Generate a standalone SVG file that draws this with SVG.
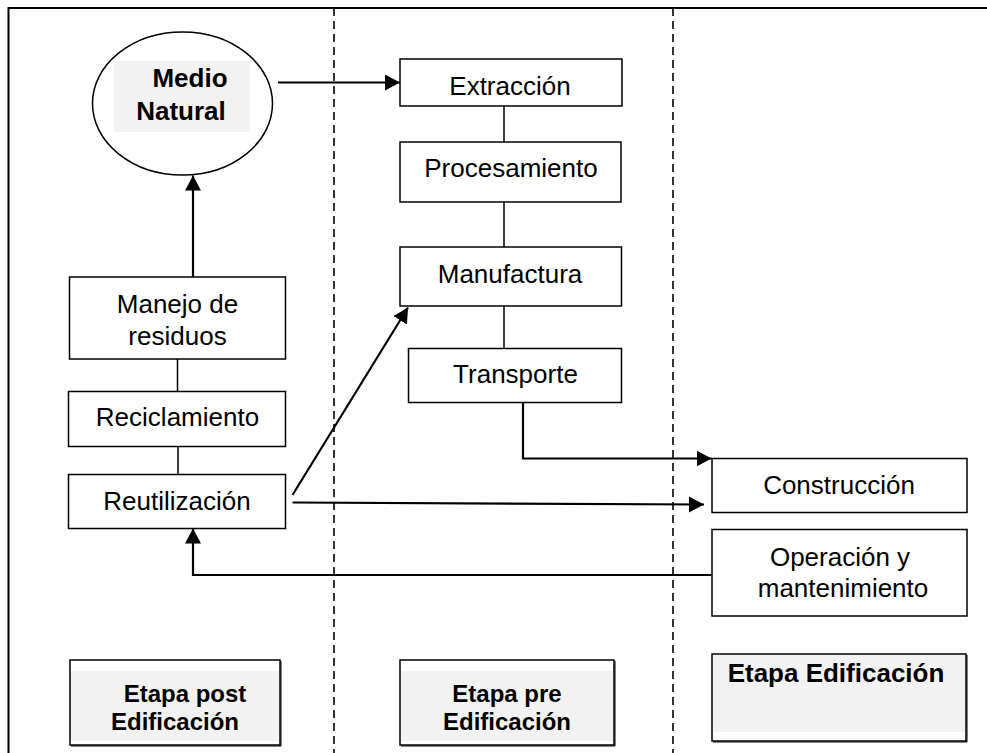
<svg xmlns="http://www.w3.org/2000/svg" width="987" height="753" viewBox="0 0 987 753">
<style>
.box{fill:#fff;stroke:#000;stroke-width:1.5}
.t{font-family:"Liberation Sans",Arial,sans-serif;font-size:26px;fill:#000;text-anchor:middle}
.b{font-weight:bold}
.s{font-size:24px}
.con{fill:none;stroke:#000;stroke-width:1.5}
.arr{fill:none;stroke:#000;stroke-width:2.2}
.dash{fill:none;stroke:#000;stroke-width:1.6;stroke-dasharray:8 5}
.gray{fill:#f2f2f2}
</style>
<defs>
<marker id="ah" markerUnits="userSpaceOnUse" markerWidth="17" markerHeight="17" refX="15" refY="8" orient="auto" viewBox="0 0 17 17">
<path d="M0,0 L15,8 L0,16 Z" fill="#000"/>
</marker>
</defs>
<rect width="987" height="753" fill="#fff"/>
<path d="M8.5 753 V8 H987" fill="none" stroke="#000" stroke-width="2"/>
<g id="lanes">
<line class="dash" x1="334" y1="8" x2="334" y2="753"/>
<line class="dash" x1="673" y1="8" x2="673" y2="753"/>
</g>
<g id="medio-natural">
<ellipse cx="182.5" cy="103.5" rx="90" ry="71.5" fill="#fff" stroke="#000" stroke-width="1.5"/>
<rect class="gray" x="114" y="61" width="136" height="71"/>
<text class="t b" x="190" y="87">Medio</text>
<text class="t b" x="181" y="120">Natural</text>
</g>
<g id="extraccion">
<rect class="box" x="400" y="59" width="222" height="47"/>
<text class="t" x="510" y="95">Extracción</text>
</g>
<g id="procesamiento">
<rect class="box" x="400" y="142" width="221" height="60"/>
<text class="t" x="511" y="177">Procesamiento</text>
</g>
<g id="manufactura">
<rect class="box" x="400" y="247" width="221.5" height="59"/>
<text class="t" x="510" y="283">Manufactura</text>
</g>
<g id="transporte">
<rect class="box" x="408.5" y="348.5" width="213" height="54"/>
<text class="t" x="515.5" y="383">Transporte</text>
</g>
<g id="construccion">
<rect class="box" x="712" y="458.5" width="255" height="54"/>
<text class="t" x="839" y="493.5">Construcción</text>
</g>
<g id="operacion">
<rect class="box" x="712" y="529.5" width="255" height="86.5"/>
<text class="t" x="840" y="566">Operación y</text>
<text class="t" x="843" y="597">mantenimiento</text>
</g>
<g id="manejo">
<rect class="box" x="69.5" y="277" width="216" height="82"/>
<text class="t" x="177.5" y="313">Manejo de</text>
<text class="t" x="177.5" y="345">residuos</text>
</g>
<g id="reciclamiento">
<rect class="box" x="68.5" y="391.5" width="217" height="55"/>
<text class="t" x="177.5" y="426">Reciclamiento</text>
</g>
<g id="reutilizacion">
<rect class="box" x="68.5" y="474.5" width="217" height="54"/>
<text class="t" x="177" y="510">Reutilización</text>
</g>
<g id="etapa-post">
<rect class="box" x="70" y="660" width="210" height="85"/>
<rect class="gray" x="71" y="671" width="208" height="70"/>
<path d="M71 746 H281 V661" fill="none" stroke="#000" stroke-width="1"/>
<text class="t b s" x="185" y="702">Etapa post</text>
<text class="t b s" x="175" y="730">Edificación</text>
</g>
<g id="etapa-pre">
<rect class="box" x="400" y="660" width="214" height="85"/>
<rect class="gray" x="401" y="671" width="212" height="70"/>
<path d="M401 746 H615 V661" fill="none" stroke="#000" stroke-width="1"/>
<text class="t b s" x="507" y="702">Etapa pre</text>
<text class="t b s" x="507" y="730">Edificación</text>
</g>
<g id="etapa-edificacion">
<rect class="box" x="712" y="654" width="254" height="87"/>
<rect class="gray" x="713" y="655" width="252" height="77"/>
<path d="M713 742 H967 V655" fill="none" stroke="#000" stroke-width="1"/>
<text class="t b" x="836" y="682">Etapa Edificación</text>
</g>
<g id="connectors">
<line class="con" x1="504" y1="106" x2="504" y2="142"/>
<line class="con" x1="504" y1="202" x2="504" y2="247"/>
<line class="con" x1="504" y1="306" x2="504" y2="348.5"/>
<line class="con" x1="177.5" y1="359" x2="177.5" y2="391.5"/>
<line class="con" x1="178" y1="446.5" x2="178" y2="474.5"/>
<line class="arr" x1="278" y1="82.5" x2="400" y2="82.5" marker-end="url(#ah)"/>
<line class="arr" x1="193" y1="277" x2="193" y2="175.5" marker-end="url(#ah)"/>
<path class="arr" d="M523 402 V458.5 H711.5" marker-end="url(#ah)"/>
<line class="arr" x1="292.5" y1="495" x2="408" y2="307.5" marker-end="url(#ah)"/>
<line class="arr" x1="292.5" y1="502.5" x2="704" y2="504.5" marker-end="url(#ah)"/>
<path class="arr" d="M711.5 575 H193 V528.5" marker-end="url(#ah)"/>
</g>
</svg>
